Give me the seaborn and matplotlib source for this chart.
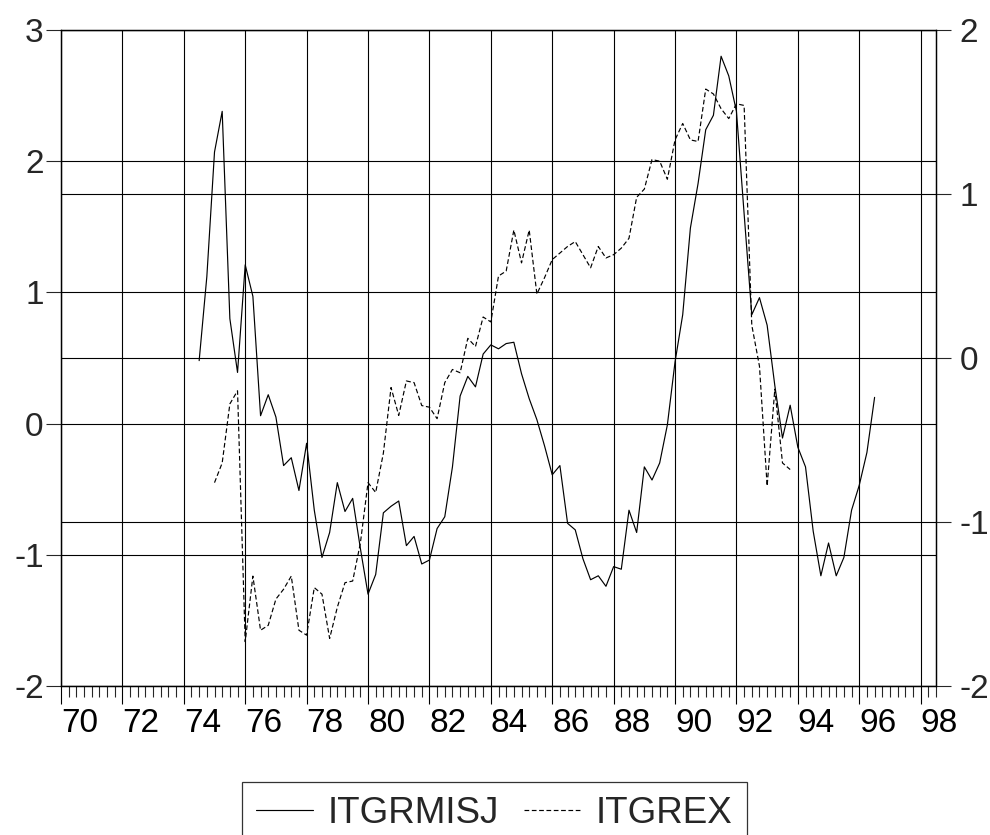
import numpy as np
import pandas as pd
import matplotlib
matplotlib.use("Agg")
import matplotlib.pyplot as plt
import seaborn as sns
from matplotlib.ticker import MultipleLocator, FixedLocator, FixedFormatter

# ---------------- data ----------------
series_names = ["ITGRMISJ", "ITGREX"]

itgrmisj_start = "1974Q3"
itgrmisj = [0.48, 1.12, 2.07, 2.38, 0.80, 0.39, 1.21, 0.97, 0.06, 0.22,
            0.05, -0.32, -0.26, -0.51, -0.15, -0.66, -1.02, -0.83, -0.45, -0.67,
            -0.57, -0.95, -1.30, -1.15, -0.68, -0.63, -0.59, -0.93, -0.86, -1.07,
            -1.04, -0.80, -0.71, -0.33, 0.21, 0.36, 0.28, 0.53, 0.60, 0.57,
            0.61, 0.62, 0.38, 0.19, 0.03, -0.17, -0.39, -0.32, -0.76, -0.81,
            -1.03, -1.19, -1.16, -1.24, -1.09, -1.11, -0.66, -0.83, -0.33, -0.43,
            -0.30, -0.01, 0.47, 0.83, 1.49, 1.83, 2.24, 2.35, 2.80, 2.65,
            2.38, 1.60, 0.83, 0.96, 0.75, 0.29, -0.11, 0.14, -0.18, -0.33,
            -0.82, -1.16, -0.91, -1.16, -1.02, -0.66, -0.47, -0.22, 0.20]

itgrex_start = "1975Q1"
itgrex = [-0.76, -0.64, -0.28, -0.20, -1.73, -1.33, -1.66, -1.63, -1.47, -1.41,
          -1.33, -1.66, -1.69, -1.40, -1.44, -1.71, -1.52, -1.37, -1.36, -1.13,
          -0.76, -0.82, -0.58, -0.18, -0.35, -0.14, -0.15, -0.29, -0.30, -0.37,
          -0.15, -0.07, -0.09, 0.12, 0.07, 0.25, 0.22, 0.50, 0.53, 0.78,
          0.58, 0.78, 0.39, 0.49, 0.60, 0.64, 0.68, 0.71, 0.63, 0.55,
          0.68, 0.61, 0.63, 0.67, 0.73, 0.98, 1.03, 1.21, 1.20, 1.09,
          1.33, 1.43, 1.33, 1.32, 1.64, 1.61, 1.52, 1.46, 1.55, 1.54,
          0.20, -0.05, -0.78, -0.19, -0.64, -0.68]

left_ticks = [-2, -1, 0, 1, 2, 3]
right_ticks = [-2, -1, 0, 1, 2]
x_tick_years = list(range(1970, 1999, 2))
x_tick_labels = ["70", "72", "74", "76", "78", "80", "82", "84",
                 "86", "88", "90", "92", "94", "96", "98"]


def to_frame(start, values):
    p = pd.period_range(start, periods=len(values), freq="Q")
    return pd.DataFrame({"t": p.year + (p.quarter - 1) / 4.0, "v": values})


df1 = to_frame(itgrmisj_start, itgrmisj)
df2 = to_frame(itgrex_start, itgrex)

# ---------------- style ----------------
sns.set_style("white")
plt.rcParams["font.family"] = ["Liberation Sans", "DejaVu Sans"]
FS = 24
LFS = 26.5

W, H = 990, 835
fig = plt.figure(figsize=(W / 100, H / 100), dpi=100)
L, R, T, B = 61, 936, 30, 686
ax = fig.add_axes([L / W, 1 - B / H, (R - L) / W, (B - T) / H])
ax2 = ax.twinx()

sns.lineplot(data=df1, x="t", y="v", ax=ax, color="black", linewidth=0.85,
             legend=False, zorder=3)
h1 = ax.lines[-1]
sns.lineplot(data=df2, x="t", y="v", ax=ax2, color="black", linewidth=0.85,
             legend=False, zorder=3)
h2 = ax2.lines[-1]
h2.set_dashes((4, 2.2))

ax.set_xlim(1970, 1998.5)
ax.set_ylim(-2, 3)
ax2.set_ylim(-2, 2)

# grid lines
for yr in x_tick_years:
    ax.axvline(yr, color="black", lw=0.8, zorder=1)
for v in left_ticks:
    ax.axhline(v, color="black", lw=0.8, zorder=1)
for v in right_ticks:
    ax2.axhline(v, color="black", lw=0.8, zorder=1)

ax.xaxis.set_major_locator(FixedLocator(x_tick_years))
ax.xaxis.set_major_formatter(FixedFormatter(x_tick_labels))
ax.xaxis.set_minor_locator(MultipleLocator(0.25))
ax.set_yticks(left_ticks)
ax.set_yticklabels([str(v) for v in left_ticks])
ax2.set_yticks(right_ticks)
ax2.set_yticklabels([str(v) for v in right_ticks])

ax.set_xlabel("")
ax.set_ylabel("")
ax2.set_ylabel("")

ax.tick_params(axis="x", which="major", direction="out", length=13, width=0.8,
               labelsize=FS, pad=3, colors="black", bottom=True)
ax.tick_params(axis="x", which="minor", direction="out", length=8, width=0.8,
               bottom=True)
ax.tick_params(axis="y", which="major", direction="out", length=11, width=0.8,
               labelsize=FS, pad=1.5, left=True, right=False)
ax2.tick_params(axis="y", which="major", direction="out", length=11, width=0.8,
                labelsize=FS, pad=6, right=True, left=False)
for lbl in ax.get_xticklabels():
    lbl.set_horizontalalignment("left")

for a in (ax, ax2):
    for s in a.spines.values():
        s.set_visible(True)
        s.set_color("black")
        s.set_linewidth(0.9)

leg = fig.legend([h1, h2], series_names, loc="upper center",
                 bbox_to_anchor=(494.5 / W, 1 - 782 / H), ncol=2, frameon=True,
                 fancybox=False, shadow=False, edgecolor="black",
                 fontsize=LFS, handlelength=1.55, handletextpad=0.4,
                 columnspacing=0.68, borderpad=0.38, borderaxespad=0)
leg.get_frame().set_linewidth(0.9)

fig.savefig("out.png", dpi=100)
